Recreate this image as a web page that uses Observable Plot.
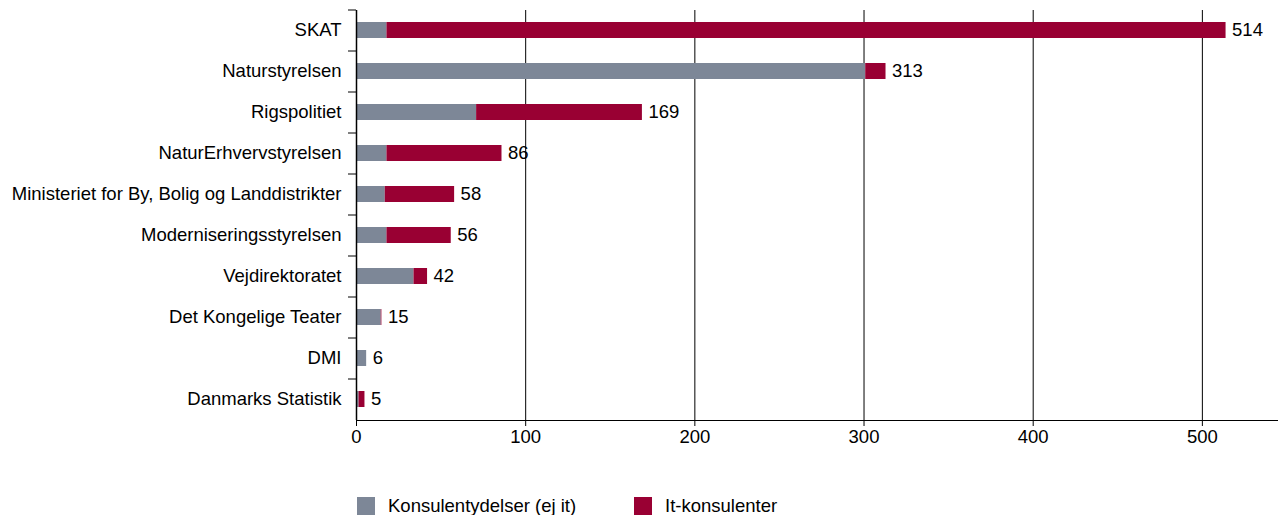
<!DOCTYPE html>
<html><head><meta charset="utf-8">
<script src="https://cdn.jsdelivr.net/npm/d3@7"></script>
<script src="https://cdn.jsdelivr.net/npm/@observablehq/plot@0.6"></script>
<style>
body{margin:0;background:#fff;font-family:"Liberation Sans",Arial,sans-serif;}
#legend{position:relative;height:30px;margin-top:35px;font-size:18.5px;color:#000;}
.item{display:flex;align-items:center;position:absolute;top:0;}
.sw{width:18px;height:18px;display:inline-block;margin-right:13px;}
</style>
</head><body><div id="chart"></div><div id="legend"></div><script>
const institutions = ["SKAT","Naturstyrelsen","Rigspolitiet","NaturErhvervstyrelsen","Ministeriet for By, Bolig og Landdistrikter","Moderniseringsstyrelsen","Vejdirektoratet","Det Kongelige Teater","DMI","Danmarks Statistik"];
const konsulent = [18,301,71,18,17,18,34,14.6,6,1.5];
const itKonsulent = [496,12,98,68,41,38,8,0.4,0,3.5];
const totals = [514,313,169,86,58,56,42,15,6,5];
const seriesNames = ["Konsulentydelser (ej it)","It-konsulenter"];
const colors = ["#7d8797","#990033"];
const xTicks = [0,100,200,300,400,500];

const rows = [];
institutions.forEach((inst,i)=>{
  rows.push({inst, series: seriesNames[0], value: konsulent[i]});
  rows.push({inst, series: seriesNames[1], value: itKonsulent[i]});
});
const totalRows = institutions.map((inst,i)=>({inst, total: totals[i]}));

const W = 1278, H = 460, mT = 10, mB = 40, mL = 356, mR = 0;
const n = institutions.length;
const step = (H - mT - mB) / n;
const fs = 18.5;

const plot = Plot.plot({
  width: W, height: H,
  marginTop: mT, marginBottom: mB, marginLeft: mL, marginRight: mR,
  style: {fontFamily: '"Liberation Sans", Arial, sans-serif', fontSize: fs + "px", color: "#000", background: "#fff"},
  x: {domain: [0, 545]},
  y: {domain: institutions, paddingInner: 0.6, paddingOuter: 0.3},
  color: {domain: seriesNames, range: colors},
  marks: [
    Plot.ruleX(xTicks.slice(1), {stroke: "#000", strokeWidth: 1}),
    Plot.barX(rows, Plot.stackX({y: "inst", x: "value", fill: "series", order: seriesNames})),
    Plot.text(totalRows, {y: "inst", x: "total", text: d => String(d.total), textAnchor: "start", dx: 6, fill: "#000", fontSize: fs}),
    Plot.axisX({ticks: xTicks, tickSize: 6, tickPadding: 3, label: null, stroke: "#000", fill: "#000", fontSize: fs}),
    Plot.axisY({tickSize: 0, tickPadding: 15, label: null, fill: "#000", fontSize: fs}),
    Plot.axisY({tickSize: 8, tickFormat: () => "", label: null, dy: -step/2, stroke: "#000"}),
    Plot.ruleX([0], {stroke: "#000", strokeWidth: 1.5}),
    Plot.frame({anchor: "bottom", stroke: "#000"})
  ]
});
document.getElementById("chart").appendChild(plot);

const legend = document.getElementById("legend");
seriesNames.forEach((s,i)=>{
  const it = document.createElement("div");
  it.className = "item";
  it.style.left = (i === 0 ? 357 : 634) + "px";
  it.innerHTML = `<span class="sw" style="background:${colors[i]}"></span><span>${s}</span>`;
  legend.appendChild(it);
});
</script></body></html>
